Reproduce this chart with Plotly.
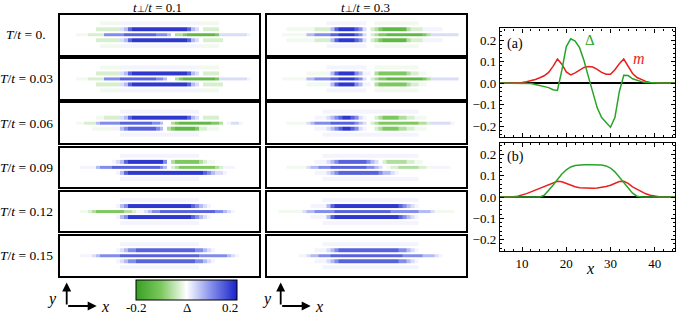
import plotly.graph_objects as go

W, H = 677, 315

# ---------------- data ----------------
SITES = list(range(1, 51))
ROWS = [0, 1, 2, 3, 4]
# colour-level code used for the density maps (value of Delta)
LEVELS = {'.': 0.0, '-': -0.01, 'a': -0.03, 'b': -0.06, 'c': -0.10, 'd': -0.14, 'e': -0.18,
          '+': 0.01, '1': 0.03, '2': 0.06, '3': 0.10, '4': 0.14, '5': 0.18}

TEMPS = ["0.", "0.03", "0.06", "0.09", "0.12", "0.15"]
TPERP = ["0.1", "0.3"]

OUT_A = ".......... ----- +++++ +++++ +++++ +++++ ----- .........."
OUT_B = "..... ..... ..... +++++ +++++ +++++ +++++ ..... ..... ....."
OUT_C = "..... ..... ..... +++++ +++++ ..--- ----- ---.. ..... ....."
OUT_D = "..... ..... ....+ +++++ +++++ +++++ +++++ +++.. ..... ....."

MAPS_TP01 = [
    [OUT_A,
     "..... ....a aaaaa 12455 55555 55555 55421 .aaaa ..... .....",
     "....- --aaa a3333 34444 44443 332.b bcddd ddddc 11111 11+..",
     "..... ....a aaaaa 12455 55555 55555 55421 .aaaa a.... .....",
     OUT_A],
    [OUT_A,
     "..... ....a aaaaa 12455 55555 55555 55421 .aaaa ..... .....",
     "....- --aaa a3333 44444 44443 32..b cdddd ddddc 11111 11+..",
     "..... ....a aaaaa 12455 55555 55555 55421 .aaaa a.... .....",
     OUT_A],
    [OUT_B,
     "..... ....- -aaaa 12455 55555 55555 55421 .aaaa ..... .....",
     "....- -aaa2 33333 44444 44433 2..bc ddddd dddcc b.+11 +....",
     "..... ...-- ---++ 23444 44443 2.bcd ddddc aa--- ..... .....",
     OUT_B],
    [OUT_B,
     "..... ..... ...+1 24555 55555 53.bc ccccc ba--. ..... .....",
     "..... ++++2 33344 44444 44444 32.ab ccccc ccccb a+++. .....",
     "..... ..... ....+ 24555 55555 55555 55555 54321 1+... .....",
     OUT_B],
    [OUT_B,
     "..... ..... ....+ 23555 55555 55555 55543 21+.. ..... .....",
     "..... --abc ccccc cbba- +1233 44444 44444 44443 321+. .....",
     "..... ..... ....+ 23555 55555 55555 55543 21+.. ..... .....",
     OUT_B],
    [OUT_B,
     "..... ..... ....+ 12334 44444 44444 44443 321+. ..... .....",
     "..... +++12 33333 44444 44444 44444 44444 33333 3321+ .....",
     "..... ..... ....+ 12334 44444 44444 44443 321+. ..... .....",
     OUT_B],
]

MAPS_TP03 = [
    [OUT_C,
     "..... ----- --aaa a2455 55431 .abcd ddddd baaa+ ++++. .....",
     "....- ----- 22333 34455 55431 .abcc ddddd ddddc b1111 111..",
     "..... ----- --aaa a2455 55431 .abcd ddddd baaa+ ++++. .....",
     OUT_C],
    [OUT_C,
     "..... ..... ----- +2455 5532+ +.bcc ccccc baa-- ..... .....",
     "....- ----- 22333 34455 55431 .abcc ddddd ddddc b1111 111..",
     "..... ..... ----- +2455 5532+ +.bcc ccccc baa-- ..... .....",
     OUT_C],
    [OUT_D,
     "..... ..... ..+++ 12345 5431+ ..abc cccbb aa--- ..... .....",
     "..... ----- 12333 34444 44321 .abcc ccccc cccbb a1111 1+...",
     "..... ..... ..+++ 12345 5431+ ..abc cccbb aa--- ..... .....",
     OUT_D],
    [OUT_D,
     "..... ..... ..+++ 12344 44444 321.a bbbbb aa--. ..... .....",
     "..... ----- 12233 34444 44444 3321. -aabb bbbaa -++++ +....",
     "..... ..... ..+++ 12344 44444 44432 21+.. ..... ..... .....",
     OUT_D],
    [OUT_D,
     "..... ..... .++++ 24555 55555 55555 55543 21+.. ..... .....",
     "...-- ----1 22333 33444 44444 44444 43333 33322 21--- --...",
     "..... ..... .++++ 24555 55555 55555 55543 21+.. ..... .....",
     OUT_D],
    [OUT_D,
     "..... ..... ..+++ 12344 44444 44444 44433 21+.. ..... .....",
     "..... ...++ 12233 34444 44444 44444 44443 33332 221+. .....",
     "..... ..... ..+++ 12344 44444 44444 44433 21+.. ..... .....",
     OUT_D],
]

X_LINE = list(range(5, 46))
DELTA_A = [0, 0, 0, 0, 0, 0, 0, -0.002, -0.006, -0.011, -0.016, -0.021, -0.031, -0.034,
           0.06, 0.17, 0.206, 0.196, 0.165, 0.105, 0.03, -0.047, -0.115, -0.16, -0.185,
           -0.205, -0.16, -0.04, 0.036, 0.035, 0.02, 0.012, 0.007, 0.003, 0.001,
           0, 0, 0, 0, 0, 0]
M_A = [0, 0, 0, 0, 0.001, 0.003, 0.006, 0.011, 0.017, 0.025, 0.034, 0.05, 0.078, 0.112,
       0.088, 0.052, 0.038, 0.048, 0.062, 0.073, 0.077, 0.075, 0.064, 0.05, 0.041, 0.041,
       0.062, 0.09, 0.112, 0.08, 0.045, 0.026, 0.016, 0.008, 0.003, 0.001, 0, 0, 0, 0, 0]
DELTA_B = [0, 0, 0, 0, 0, 0, 0, 0, 0, 0, 0.008, 0.03, 0.055, 0.082, 0.108, 0.128, 0.141,
           0.148, 0.151, 0.152, 0.152, 0.152, 0.152, 0.15, 0.146, 0.136, 0.118, 0.093,
           0.066, 0.039, 0.018, 0.004, 0, 0, 0, 0, 0, 0, 0, 0, 0]
M_B = [0, 0, 0, 0.001, 0.004, 0.009, 0.016, 0.024, 0.032, 0.041, 0.05, 0.059, 0.067,
       0.074, 0.072, 0.063, 0.054, 0.048, 0.044, 0.042, 0.041, 0.041, 0.042, 0.045, 0.049,
       0.055, 0.064, 0.073, 0.074, 0.064, 0.048, 0.036, 0.025, 0.015, 0.008, 0.003, 0.001,
       0, 0, 0, 0]

# ---------------- style ----------------
SERIF = "Times New Roman, Liberation Serif, serif"
GREEN = "rgb(40,165,40)"
RED = "rgb(235,30,30)"
COLORSCALE = [[0.0, "rgb(55,160,35)"], [0.25, "rgb(125,200,95)"], [0.5, "rgb(255,255,255)"],
              [0.75, "rgb(130,140,235)"], [1.0, "rgb(25,35,200)"]]


def px(x):
    return x / W


def py(y):
    return 1 - y / H


fig = go.Figure()
layout = dict(width=W, height=H, margin=dict(l=0, r=0, t=0, b=0),
              paper_bgcolor="white", plot_bgcolor="white", showlegend=False,
              font=dict(family=SERIF, size=12, color="black"))

PANEL_X = [(60, 259), (266.5, 466)]
PANEL_TOPS = [15 + 44.2 * i for i in range(6)]
PANEL_H = 39.5

annotations = []
idx = 0
for c, maps in enumerate([MAPS_TP01, MAPS_TP03]):
    for r in range(6):
        idx += 1
        s = "" if idx == 1 else str(idx)
        z = [[LEVELS[ch] for ch in row.replace(" ", "")][:50] for row in maps[r]]
        fig.add_trace(go.Heatmap(z=z, x=SITES, y=ROWS, coloraxis="coloraxis",
                                 xaxis="x" + s, yaxis="y" + s, ygap=2, hoverinfo="skip"))
        x0, x1 = PANEL_X[c]
        top = PANEL_TOPS[r]
        bot = top + PANEL_H
        common = dict(showticklabels=False, ticks="", showgrid=False, zeroline=False,
                      showline=True, linecolor="black", linewidth=1.7, mirror=True,
                      fixedrange=True)
        layout["xaxis" + s] = dict(domain=[px(x0), px(x1)], range=[0.5, 50.5],
                                   anchor="y" + s, **common)
        layout["yaxis" + s] = dict(domain=[py(bot), py(top)], range=[5.4, -1.4],
                                   anchor="x" + s, **common)

# row labels
for r, T in enumerate(TEMPS):
    annotations.append(dict(x=px(26), y=py(PANEL_TOPS[r] + PANEL_H / 2), xref="paper", yref="paper",
                            text=f"<i>T</i>/<i>t</i> = {T}", showarrow=False,
                            font=dict(family=SERIF, size=13.5), xanchor="center", yanchor="middle"))
# column titles
for c, tp in enumerate(TPERP):
    cx = [157, 366][c]
    annotations.append(dict(x=px(cx), y=py(7.5), xref="paper", yref="paper",
                            text=(f"<i>t</i><span style='font-size:9px'>⊥</span>"
                                  f"/<i>t</i> = {tp}"),
                            showarrow=False,
                            font=dict(family=SERIF, size=13), xanchor="center", yanchor="middle"))

# line plots
LINE_PANELS = [(28.3, 137.3, DELTA_A, M_A, "(a)"), (142.7, 250.7, DELTA_B, M_B, "(b)")]
for k, (top, bot, dvals, mvals, lab) in enumerate(LINE_PANELS):
    idx += 1
    s = str(idx)
    fig.add_trace(go.Scatter(x=X_LINE, y=mvals, mode="lines", line=dict(color=RED, width=1.5),
                             xaxis="x" + s, yaxis="y" + s, hoverinfo="skip"))
    fig.add_trace(go.Scatter(x=X_LINE, y=dvals, mode="lines", line=dict(color=GREEN, width=1.5),
                             xaxis="x" + s, yaxis="y" + s, hoverinfo="skip"))
    axcommon = dict(showline=True, linecolor="black", linewidth=1.4, mirror="ticks",
                    ticks="inside", ticklen=4, tickwidth=1, tickcolor="black", showgrid=False,
                    tickfont=dict(family=SERIF, size=13, color="black"), fixedrange=True)
    layout["xaxis" + s] = dict(domain=[px(500), px(675)], range=[5, 44.6], anchor="y" + s,
                               tickvals=[10, 20, 30, 40], showticklabels=(k == 1),
                               zeroline=False,
                               minor=dict(ticks="inside", ticklen=2, tickcolor="black", dtick=2),
                               **axcommon)
    layout["yaxis" + s] = dict(domain=[py(bot), py(top)], range=[-0.252, 0.255], anchor="x" + s,
                               tickvals=[-0.2, -0.1, 0.0, 0.1, 0.2], tickformat=".1f",
                               zeroline=True, zerolinecolor="black", zerolinewidth=1.6,
                               minor=dict(ticks="inside", ticklen=2, tickcolor="black",
                                          tickvals=[round(-0.24 + 0.02 * i, 2) for i in range(25)]),
                               **axcommon)
    annotations.append(dict(x=px(515), y=py([44, 157][k]), xref="paper", yref="paper", text=lab,
                            showarrow=False, font=dict(family=SERIF, size=14),
                            xanchor="center", yanchor="middle"))

annotations += [
    dict(x=px(589.5), y=py(40), xref="paper", yref="paper", text="Δ", showarrow=False,
         font=dict(family=SERIF, size=15, color=GREEN), xanchor="center", yanchor="middle"),
    dict(x=px(639), y=py(58), xref="paper", yref="paper", text="<i>m</i>", showarrow=False,
         font=dict(family=SERIF, size=16, color=RED), xanchor="center", yanchor="middle"),
    dict(x=px(590), y=py(268), xref="paper", yref="paper", text="<i>x</i>", showarrow=False,
         font=dict(family=SERIF, size=16), xanchor="center", yanchor="middle"),
    # colour bar labels
    dict(x=px(136.7), y=py(307.5), xref="paper", yref="paper", text="-0.2", showarrow=False,
         font=dict(family=SERIF, size=13), xanchor="center", yanchor="middle"),
    dict(x=px(186.7), y=py(307.5), xref="paper", yref="paper", text="Δ", showarrow=False,
         font=dict(family=SERIF, size=13), xanchor="center", yanchor="middle"),
    dict(x=px(230), y=py(307.5), xref="paper", yref="paper", text="0.2", showarrow=False,
         font=dict(family=SERIF, size=13), xanchor="center", yanchor="middle"),
]

# direction arrows
for (ox, lx_y, lx_x) in [(66.7, 51.7, 105), (280.7, 266.7, 318.5)]:
    annotations.append(dict(x=px(ox), y=py(282.5), xref="paper", yref="paper", ax=0, ay=23.5,
                            text="", showarrow=True, arrowhead=2, arrowsize=1, arrowwidth=1.8,
                            arrowcolor="black"))
    annotations.append(dict(x=px(ox + 30), y=py(306), xref="paper", yref="paper", ax=-30, ay=0,
                            text="", showarrow=True, arrowhead=2, arrowsize=1, arrowwidth=1.8,
                            arrowcolor="black"))
    annotations.append(dict(x=px(lx_y), y=py(299), xref="paper", yref="paper", text="<i>y</i>",
                            showarrow=False, font=dict(family=SERIF, size=16),
                            xanchor="center", yanchor="middle"))
    annotations.append(dict(x=px(lx_x), y=py(306), xref="paper", yref="paper", text="<i>x</i>",
                            showarrow=False, font=dict(family=SERIF, size=16),
                            xanchor="center", yanchor="middle"))

layout["annotations"] = annotations
layout["coloraxis"] = dict(cmin=-0.2, cmax=0.2, colorscale=COLORSCALE,
                           colorbar=dict(orientation="h", x=px(186.2), xanchor="center",
                                         y=py(280), yanchor="top", len=101, lenmode="pixels",
                                         thickness=20, thicknessmode="pixels", outlinewidth=1,
                                         outlinecolor="black", showticklabels=False, ticks="",
                                         xpad=0, ypad=0))
fig.update_layout(**layout)
fig.write_html("out.html", config={"displayModeBar": False},
               post_script="document.body.style.margin='0px';document.body.style.padding='0px';")
